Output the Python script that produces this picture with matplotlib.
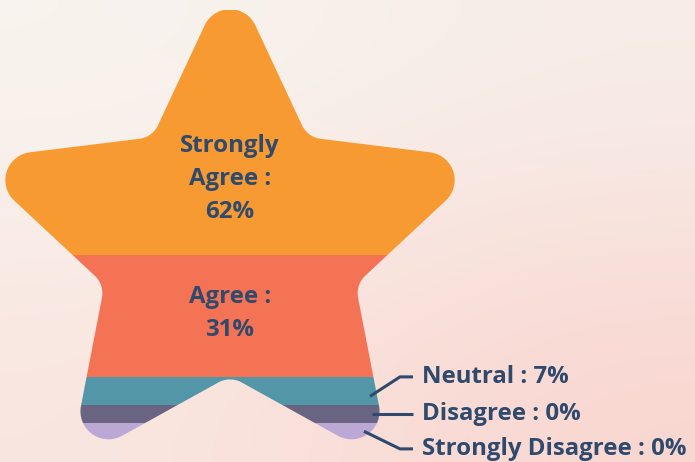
import numpy as np
import matplotlib
matplotlib.use("Agg")
import matplotlib.pyplot as plt
from matplotlib.path import Path
from matplotlib.patches import PathPatch

# survey answers (percent)
categories = ["Strongly Agree", "Agree", "Neutral", "Disagree", "Strongly Disagree"]
values = [62, 31, 7, 0, 0]
colors = ["#F79A32", "#F47355", "#5296A8", "#6A6483", "#BBA8D4"]
text_color = "#2F4A6D"
min_share = 4.4  # zero answers still get a thin band


def rounded_star(cx, cy, R, rin, rad_out, rad_in, n=24):
    ang = np.deg2rad(90 + np.arange(10) * 36)
    rr = np.where(np.arange(10) % 2 == 0, R, rin)
    # y axis points down (pixel like coordinates)
    pts = np.c_[cx + rr * np.cos(ang), cy - rr * np.sin(ang)]
    out = []
    for i in range(10):
        P, A, B = pts[i], pts[i - 1], pts[(i + 1) % 10]
        u1 = (A - P) / np.linalg.norm(A - P)
        u2 = (B - P) / np.linalg.norm(B - P)
        th = np.arccos(np.clip(u1 @ u2, -1, 1)) / 2
        r = rad_out if i % 2 == 0 else rad_in
        d = r / np.tan(th)
        bis = (u1 + u2) / np.linalg.norm(u1 + u2)
        C = P + bis * r / np.sin(th)
        T1, T2 = P + u1 * d, P + u2 * d
        a1 = np.arctan2(*(T1 - C)[::-1])
        a2 = np.arctan2(*(T2 - C)[::-1])
        da = (a2 - a1 + np.pi) % (2 * np.pi) - np.pi
        a = a1 + np.linspace(0, da, n)
        out.append(np.c_[C[0] + r * np.cos(a), C[1] + r * np.sin(a)])
    out = np.vstack(out)
    return Path(np.vstack([out, out[:1]]), closed=True)


W, H = 695, 462
fig = plt.figure(figsize=(W / 100, H / 100), dpi=100)
ax = fig.add_axes([0, 0, 1, 1])
ax.set_xlim(0, W)
ax.set_ylim(H, 0)
ax.axis("off")

# soft background
bg = np.array([[[248, 244, 239], [247, 237, 232]],
               [[250, 230, 224], [250, 214, 208]]]) / 255
ax.imshow(bg, extent=[0, W, H, 0], interpolation="bicubic", zorder=0, aspect="auto")

star = rounded_star(230, 244, 273, 132, 28, 24)
patch = PathPatch(star, facecolor="none", edgecolor="none", transform=ax.transData)
ax.add_patch(patch)

# fill levels by height share of the star
gx, gy = np.meshgrid(np.arange(0, W, 0.5), np.arange(0, H, 0.5))
inside = star.contains_points(np.c_[gx.ravel(), gy.ravel()]).reshape(gx.shape)
widths = inside.sum(axis=1) * 0.5
ys = gy[:, 0]
rows = np.where(widths > 0)[0]
top, bottom = ys[rows[0]], ys[rows[-1]] + 1
share = np.maximum(np.array(values, float), min_share)
levels = top + (bottom - top) * np.r_[0, np.cumsum(share / share.sum())]

bars = ax.bar(np.full(5, 230), np.diff(levels), bottom=levels[:-1], width=W,
              color=colors, zorder=2)
for b in bars:
    b.set_clip_path(patch)

font = dict(family="Open Sans", weight="bold", color=text_color, fontsize=17.3)

# inner labels
label_mid = [levels[0] + 0.69 * (levels[1] - levels[0]), (levels[1] + levels[2]) / 2 - 3]
for i in range(2):
    name = categories[i].replace(" ", "\n")
    ax.text(230, label_mid[i], f"{name} :\n{values[i]}%", ha="center", va="center",
            linespacing=1.5, zorder=3, **font)

# callouts for the thin bands
mids = (levels[2:-1] + levels[3:]) / 2
label_y = [mids[1] - 37, mids[1], mids[1] + 35]
for k, i in enumerate(range(2, 5)):
    yb = mids[k] + (5 if i == 2 else 0)
    row = int(yb * 2)
    xr = np.where(inside[row])[0].max() * 0.5
    x0 = xr - 7
    ys_line = [yb, label_y[k], label_y[k]] if i != 3 else [yb, yb, yb]
    ax.plot([x0, 400, 413], ys_line, color=text_color, lw=2.2, zorder=4,
            solid_capstyle="butt")
    ax.text(422, label_y[k], f"{categories[i]} : {values[i]}%", ha="left", va="center",
            zorder=4, **font)

fig.savefig("out.png", dpi=100)
